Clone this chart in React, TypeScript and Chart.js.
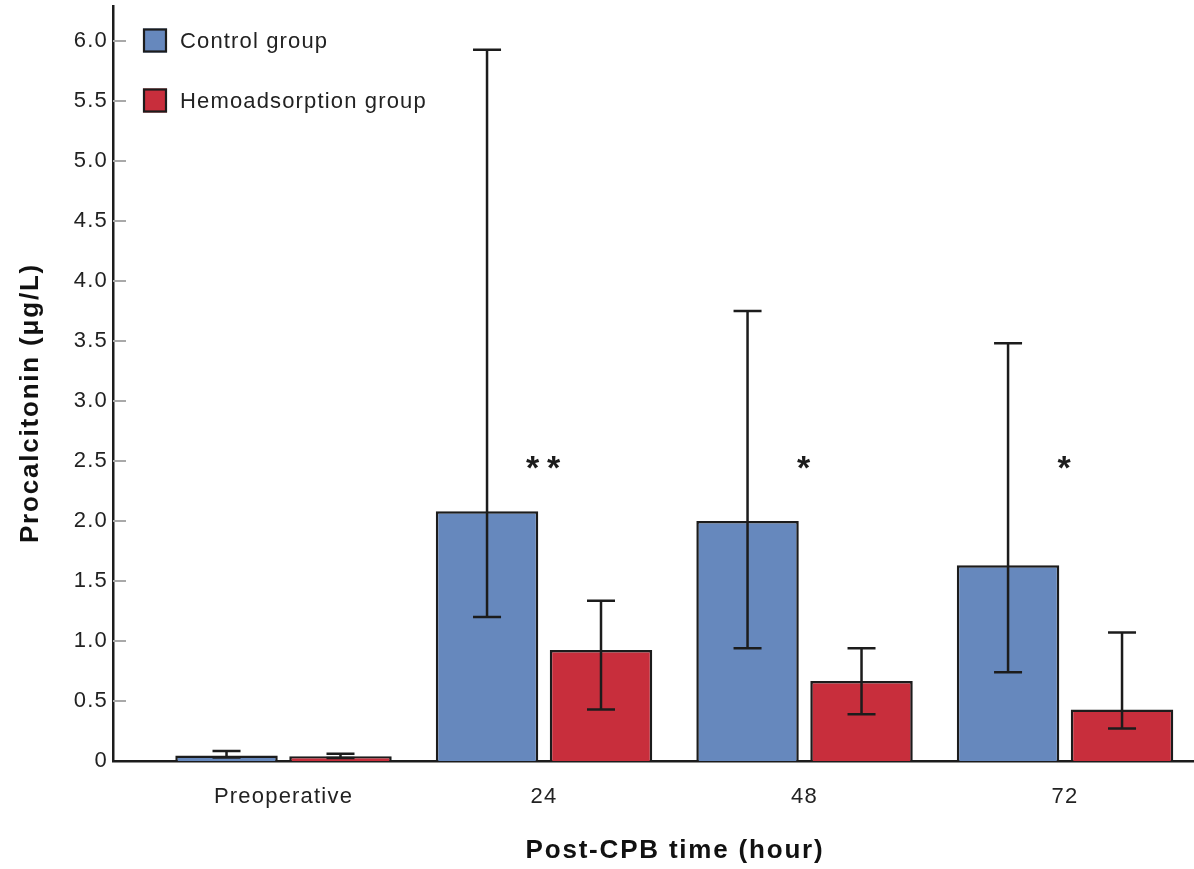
import React, { useEffect, useRef } from "react";
import { Chart, registerables } from "chart.js";

Chart.register(...registerables);

// ---- data ----
const categories = ["Preoperative", "24", "48", "72"];
const controlMean = [0.045, 2.08, 2.0, 1.63];
const controlLow = [0.03, 1.2, 0.94, 0.74];
const controlHigh = [0.083, 5.925, 3.75, 3.48];
const hemoMean = [0.04, 0.925, 0.667, 0.43];
const hemoLow = [0.025, 0.43, 0.39, 0.27];
const hemoHigh = [0.06, 1.335, 0.94, 1.07];
const significance = ["", "**", "*", "*"];
const significanceLevel = 2.49;
const yTickValues = [0, 0.5, 1.0, 1.5, 2.0, 2.5, 3.0, 3.5, 4.0, 4.5, 5.0, 5.5, 6.0];
const seriesNames = ["Control group", "Hemoadsorption group"];

const FONT = "'Liberation Sans', Arial, Helvetica, sans-serif";
const BLUE = "#6688bd";
const RED = "#c82e3c";
const DARK = "#1c1c1c";

const lows = [controlLow, hemoLow];
const highs = [controlHigh, hemoHigh];

const overlayPlugin = {
  id: "overlay",
  beforeDraw(chart: any) {
    (chart.ctx as any).letterSpacing = "1.2px";
  },
  beforeDatasetsDraw(chart: any) {
    const ctx = chart.ctx;
    const y = chart.scales.y;
    const area = chart.chartArea;
    ctx.save();
    ctx.strokeStyle = "#a9a9a9";
    ctx.lineWidth = 2;
    yTickValues.forEach((v) => {
      if (v === 0) return;
      const py = Math.round(y.getPixelForValue(v));
      ctx.beginPath();
      ctx.moveTo(area.left, py);
      ctx.lineTo(area.left + 13, py);
      ctx.stroke();
    });
    ctx.restore();
  },
  afterDatasetsDraw(chart: any) {
    const ctx = chart.ctx;
    const y = chart.scales.y;
    const x = chart.scales.x;
    ctx.save();
    // error bars
    ctx.strokeStyle = DARK;
    ctx.lineWidth = 2.5;
    [0, 1].forEach((d) => {
      const meta = chart.getDatasetMeta(d);
      meta.data.forEach((bar: any, i: number) => {
        const cx = bar.x;
        const yl = y.getPixelForValue(lows[d][i]);
        const yh = y.getPixelForValue(highs[d][i]);
        const cap = 14;
        ctx.beginPath();
        ctx.moveTo(cx, yl);
        ctx.lineTo(cx, yh);
        ctx.moveTo(cx - cap, yh);
        ctx.lineTo(cx + cap, yh);
        ctx.moveTo(cx - cap, yl);
        ctx.lineTo(cx + cap, yl);
        ctx.stroke();
      });
    });
    // significance asterisks
    ctx.fillStyle = DARK;
    (ctx as any).letterSpacing = "0px";
    ctx.font = `bold 34px ${FONT}`;
    ctx.textAlign = "center";
    ctx.textBaseline = "alphabetic";
    const m = ctx.measureText("*");
    const asc = m.actualBoundingBoxAscent || 24;
    const desc = m.actualBoundingBoxDescent || -11;
    const mid = (asc - desc) / 2;
    significance.forEach((s, i) => {
      if (!s) return;
      const cx = x.getPixelForValue(i);
      const cy = y.getPixelForValue(significanceLevel);
      const n = s.length;
      for (let k = 0; k < n; k++) {
        const off = (k - (n - 1) / 2) * 21;
        ctx.fillText("*", cx + off - 1, cy + mid);
      }
    });
    ctx.restore();
  },
  afterDraw(chart: any) {
    const ctx = chart.ctx;
    ctx.save();
    // legend
    const colors = [BLUE, RED];
    const rows = [40.5, 100.5];
    seriesNames.forEach((name, i) => {
      const cy = rows[i];
      ctx.fillStyle = colors[i];
      ctx.fillRect(143, cy - 12, 24, 24);
      ctx.strokeStyle = DARK;
      ctx.lineWidth = 2.2;
      ctx.strokeRect(144, cy - 11, 22, 22);
      ctx.fillStyle = "#222";
      (ctx as any).letterSpacing = "1.15px";
      ctx.font = `22px ${FONT}`;
      ctx.textAlign = "left";
      ctx.textBaseline = "middle";
      ctx.fillText(name, 180, cy + 1);
    });
    // axis titles
    ctx.fillStyle = "#111";
    (ctx as any).letterSpacing = "1.8px";
    ctx.font = `bold 26px ${FONT}`;
    ctx.textAlign = "center";
    ctx.textBaseline = "middle";
    ctx.fillText("Post-CPB time (hour)", 675, 851);
    ctx.translate(31, 403);
    ctx.rotate(-Math.PI / 2);
    ctx.fillText("Procalcitonin (\u03bcg/L)", 0, 0);
    ctx.restore();
  },
};

export default function App() {
  const ref = useRef<HTMLCanvasElement | null>(null);
  useEffect(() => {
    if (!ref.current) return;
    const chart = new Chart(ref.current, {
      type: "bar",
      data: {
        datasets: [
          {
            label: seriesNames[0],
            data: controlMean.map((v, i) => ({ x: i, y: v })),
            backgroundColor: BLUE,
            borderColor: DARK,
            borderWidth: 2.5,
            categoryPercentage: 0.875,
            barPercentage: 0.899,
          },
          {
            label: seriesNames[1],
            data: hemoMean.map((v, i) => ({ x: i, y: v })),
            backgroundColor: RED,
            borderColor: DARK,
            borderWidth: 2.5,
            categoryPercentage: 0.875,
            barPercentage: 0.899,
          },
        ],
      } as any,
      options: {
        animation: false,
        responsive: false,
        layout: { padding: { top: 6, left: 0, right: 0, bottom: 0 } },
        plugins: {
          legend: { display: false },
          tooltip: { enabled: false },
        },
        scales: {
          x: {
            type: "linear",
            offset: false,
            min: -0.6545,
            max: 3.495,
            grid: { display: false, drawTicks: false, offset: false },
            border: { display: true, color: DARK, width: 2.5 },
            afterBuildTicks: (scale: any) => {
              scale.ticks = categories.map((_, i) => ({ value: i }));
            },
            afterFit: (scale: any) => {
              scale.height = 108;
            },
            ticks: {
              autoSkip: false,
              maxRotation: 0,
              padding: 23,
              color: "#222",
              font: { family: FONT, size: 22 },
              callback: (v: any) => categories[v as number] ?? "",
            },
          },
          y: {
            type: "linear",
            min: 0,
            max: 6.29,
            grid: { display: false, drawTicks: false },
            border: { display: true, color: DARK, width: 2.5 },
            afterBuildTicks: (scale: any) => {
              scale.ticks = yTickValues.map((v) => ({ value: v }));
            },
            afterFit: (scale: any) => {
              scale.width = 113;
            },
            ticks: {
              padding: 5,
              color: "#222",
              font: { family: FONT, size: 22, lineHeight: 0.05 },
              callback: (v: any) => (Number(v) === 0 ? "0" : Number(v).toFixed(1)),
            },
          },
        },
      } as any,
      plugins: [overlayPlugin],
    });
    return () => chart.destroy();
  }, []);
  return (
    <div style={{ position: "absolute", left: 0, top: 0, width: 1194, height: 869, background: "#fff" }}>
      <canvas ref={ref} width={1194} height={869} style={{ display: "block" }} />
    </div>
  );
}
